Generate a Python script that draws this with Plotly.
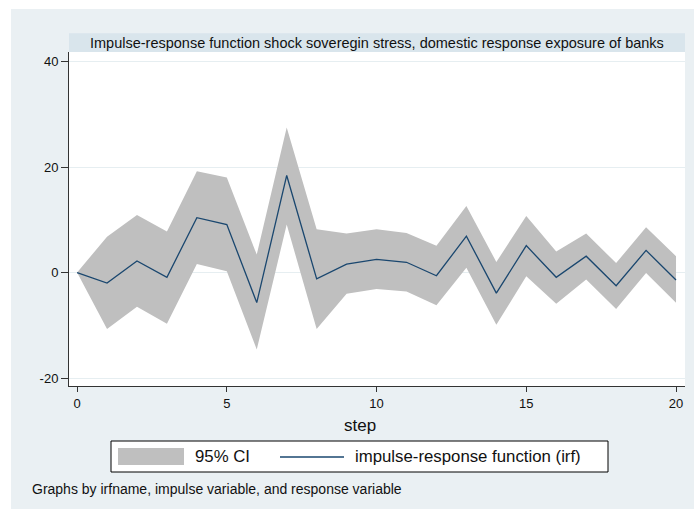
import plotly.graph_objects as go

# Impulse-response estimates by step with 95% confidence bounds
steps = list(range(21))
irf = [0.0, -2.0, 2.2, -0.9, 10.4, 9.1, -5.7, 18.4, -1.2, 1.6, 2.5,
       1.95, -0.6, 6.9, -3.9, 5.1, -0.9, 3.1, -2.5, 4.2, -1.4]
ci_upper = [0.0, 6.8, 10.9, 7.8, 19.2, 18.0, 3.4, 27.5, 8.2, 7.4, 8.2,
            7.5, 5.1, 12.6, 2.0, 10.7, 4.0, 7.4, 1.8, 8.6, 3.1]
ci_lower = [0.0, -10.7, -6.5, -9.7, 1.6, 0.25, -14.6, 9.1, -10.7, -4.0, -3.1,
            -3.6, -6.2, 0.9, -9.9, -0.7, -5.9, -1.3, -6.9, -0.1, -5.7]

x_ticks = [0, 5, 10, 15, 20]
y_ticks = [-20, 0, 20, 40]

title_text = "Impulse-response function shock soveregin stress, domestic response exposure of banks"
legend_ci = "95% CI"
legend_irf = "impulse-response function (irf)"
note_text = "Graphs by irfname, impulse variable, and response variable"
x_title = "step"

PANEL = "#EAF0F3"
BAND = "#D9E5EC"
CI_GRAY = "#BFBFBF"
NAVY = "#1A476F"
GRID = "#E6EEF1"
AXIS = "#333333"
FONT = "Liberation Sans, Arial, sans-serif"

W, H = 697, 510
ML, MR, MT, MB = 69, 12, 52, 124
PW, PH = W - ML - MR, H - MT - MB


def px(x):
    return (x - ML) / PW


def py(y):
    return (H - MB - y) / PH


fig = go.Figure()

# confidence band as a closed polygon
fig.add_trace(go.Scatter(
    x=steps + steps[::-1],
    y=ci_upper + ci_lower[::-1],
    fill="toself", fillcolor=CI_GRAY,
    line=dict(width=0), mode="lines",
    hoverinfo="skip", showlegend=False,
))

fig.add_trace(go.Scatter(
    x=steps, y=irf, mode="lines",
    line=dict(color=NAVY, width=1.3),
    showlegend=False,
))

shapes = [
    # graph region
    dict(type="rect", xref="paper", yref="paper", layer="below",
         x0=px(11), x1=px(694), y0=py(9), y1=py(509),
         fillcolor=PANEL, line=dict(width=0)),
    # plot region
    dict(type="rect", xref="paper", yref="paper", layer="below",
         x0=0, x1=1, y0=0, y1=1, fillcolor="white", line=dict(width=0)),
    # subtitle band
    dict(type="rect", xref="paper", yref="paper", layer="below",
         x0=0, x1=1, y0=1, y1=py(33.3), fillcolor=BAND, line=dict(width=0)),
    # legend box
    dict(type="rect", xref="paper", yref="paper",
         x0=px(111), x1=px(608), y0=py(441), y1=py(472),
         fillcolor="white", line=dict(color="#000000", width=1)),
    # legend swatch for CI
    dict(type="rect", xref="paper", yref="paper",
         x0=px(118), x1=px(184), y0=py(448), y1=py(465),
         fillcolor=CI_GRAY, line=dict(width=0)),
    # legend line for irf
    dict(type="line", xref="paper", yref="paper",
         x0=px(280), x1=px(344), y0=py(457), y1=py(457),
         line=dict(color=NAVY, width=1.5)),
]

annotations = [
    dict(text=title_text, xref="paper", yref="paper", x=0.5, y=py(42.5),
         xanchor="center", yanchor="middle", showarrow=False,
         font=dict(family=FONT, size=14.5, color="#111111")),
    dict(text=x_title, xref="paper", yref="paper", x=px(360), y=py(425),
         xanchor="center", yanchor="middle", showarrow=False,
         font=dict(family=FONT, size=17, color="#111111")),
    dict(text=legend_ci, xref="paper", yref="paper", x=px(193), y=py(456.5),
         xanchor="left", yanchor="middle", showarrow=False,
         font=dict(family=FONT, size=16.8, color="#111111")),
    dict(text=legend_irf, xref="paper", yref="paper", x=px(353), y=py(456.5),
         xanchor="left", yanchor="middle", showarrow=False,
         font=dict(family=FONT, size=16.8, color="#111111")),
    dict(text=note_text, xref="paper", yref="paper", x=px(30), y=py(489),
         xanchor="left", yanchor="middle", showarrow=False,
         font=dict(family=FONT, size=14, color="#111111")),
]

fig.update_layout(
    width=W, height=H,
    margin=dict(l=ML, r=MR, t=MT, b=MB, pad=0),
    paper_bgcolor="white", plot_bgcolor="rgba(0,0,0,0)",
    shapes=shapes, annotations=annotations,
    showlegend=False,
    font=dict(family=FONT, size=13, color="#111111"),
)

fig.update_xaxes(
    range=[-0.27, 20.3], tickvals=x_ticks, ticktext=[str(v) for v in x_ticks],
    ticks="outside", ticklen=5, tickcolor=AXIS, tickwidth=1,
    showline=True, linecolor=AXIS, linewidth=1,
    showgrid=False, zeroline=False,
    tickfont=dict(family=FONT, size=13, color="#111111"),
)
fig.update_yaxes(
    range=[-21.5, 41.8], tickvals=y_ticks, ticktext=[str(v) for v in y_ticks],
    ticks="outside", ticklen=7, tickcolor=AXIS, tickwidth=1,
    showline=True, linecolor=AXIS, linewidth=1,
    showgrid=True, gridcolor=GRID, gridwidth=1, zeroline=False,
    tickfont=dict(family=FONT, size=13, color="#111111"),
)

fig.write_html("out.html")
